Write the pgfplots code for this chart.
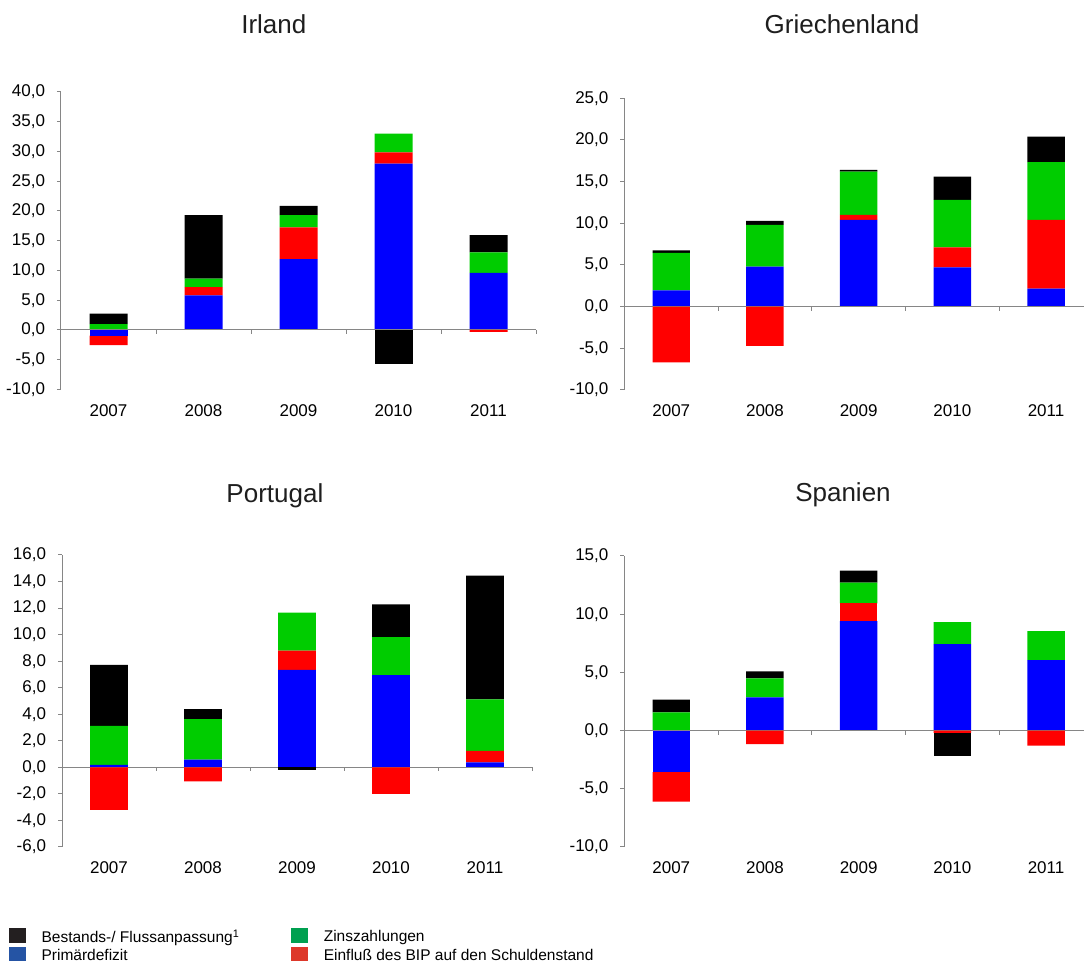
\documentclass[border=0pt]{standalone}
\usepackage{fontspec}
\setmainfont{Liberation Sans}
\usepackage{pgfplots}
\usepackage{pgfplotstable}
\pgfplotsset{compat=1.18}

\definecolor{bblue}{RGB}{0,0,255}
\definecolor{bred}{RGB}{255,0,0}
\definecolor{bgreen}{RGB}{0,204,0}
\definecolor{bblack}{RGB}{0,0,0}
\definecolor{axgray}{RGB}{134,134,134}
\definecolor{lblack}{RGB}{35,31,32}
\definecolor{lblue}{RGB}{37,84,164}
\definecolor{lgreen}{RGB}{0,160,80}
\definecolor{lred}{RGB}{221,56,42}

% columns: bp rp gp kp = positive parts (blue, red, green, black); bn rn kn = negative parts
\pgfplotstableread{
x bp rp gp kp bn rn kn
0 0 0 1.0 1.75 -0.95 -1.6 0
1 5.8 1.4 1.45 10.65 0 0 0
2 11.9 5.35 2.05 1.55 0 0 0
3 27.95 1.9 3.15 0 0 0 -5.8
4 9.6 0 3.45 2.9 0 -0.3 0
}\irland
\pgfplotstableread{
x bp rp gp kp bn rn kn
0 1.95 0 4.5 0.3 0 -6.7 0
1 4.8 0 5.0 0.5 0 -4.7 0
2 10.4 0.6 5.2 0.2 0 0 0
3 4.7 2.4 5.7 2.8 0 0 0
4 2.15 8.25 6.95 3.05 0 0 0
}\griechenland
\pgfplotstableread{
x bp rp gp kp bn rn kn
0 0.18 0 2.95 4.6 0 -3.2 0
1 0.58 0 3.05 0.75 0 -1.05 0
2 7.35 1.45 2.85 0 0 0 -0.18
3 6.95 0 2.87 2.45 0 -2.0 0
4 0.38 0.87 3.88 9.32 0 0 0
}\portugal
\pgfplotstableread{
x bp rp gp kp bn rn kn
0 0 0 1.57 1.09 -3.57 -2.54 0
1 2.86 0 1.63 0.6 0 -1.17 0
2 9.4 1.54 1.77 1.03 0 0 0
3 7.43 0 1.88 0 0 -0.2 -1.94
4 6.06 0 2.48 0 0 -1.29 0
}\spanien

\pgfplotsset{
  posaxis/.style={
    scale only axis, anchor=south west,
    ybar stacked, bar width=0.4,
    xmin=-0.5,
    axis y line*=left, axis x line*=bottom,
    x axis line style={draw=none},
    y axis line style={axgray, line width=1pt, -},
    xtick={0,1,2,3,4}, xticklabels={2007,2008,2009,2010,2011},
    major x tick style={draw=none},
    ytick align=outside, major tick length=4pt,
    major y tick style={axgray, line width=1pt},
    tick label style={font=\fontsize{17}{20}\selectfont, text=black},
    /pgf/number format/assume math mode=true,
    scaled y ticks=false,
    yticklabel style={xshift=-8.5pt, /pgf/number format/.cd, fixed, fixed zerofill, precision=1, use comma},
    xticklabel style={anchor=center, yshift=-21pt},
    title style={font=\fontsize{26}{31}\selectfont, anchor=base, text={rgb,255:red,30;green,30;blue,30}},
  },
  negaxis/.style={
    scale only axis, anchor=south west,
    ybar stacked, bar width=0.4,
    xmin=-0.5, hide axis, clip=false,
  },
}

\newcommand{\posbars}[1]{%
  \addplot[fill=bblue, draw=none] table[x=x, y=bp] {#1};
  \addplot[fill=bred, draw=none] table[x=x, y=rp] {#1};
  \addplot[fill=bgreen, draw=none] table[x=x, y=gp] {#1};
  \addplot[fill=bblack, draw=none] table[x=x, y=kp] {#1};
}
\newcommand{\negbars}[1]{%
  \addplot[fill=bblue, draw=none] table[x=x, y=bn] {#1};
  \addplot[fill=bred, draw=none] table[x=x, y=rn] {#1};
  \addplot[fill=bblack, draw=none] table[x=x, y=kn] {#1};
}
\newcommand{\zeroaxis}[1]{%
  \draw[axgray, line width=1pt] ({rel axis cs:0,0}|-{axis cs:0,0}) -- ({rel axis cs:1,0}|-{axis cs:0,0});
  \pgfplotsinvokeforeach{#1}{\draw[axgray, line width=1pt] (axis cs:##1,0) -- ++(0pt,-4pt);}
}

\begin{document}
\begin{tikzpicture}
\useasboundingbox (0pt,0pt) rectangle (1084pt,965pt);

% ---------------- Irland
\begin{axis}[posaxis, at={(61pt,575.5pt)}, width=475pt, height=297.5pt,
  xmax=4.5, ymin=-10, ymax=40, ytick={-10,-5,...,40},
  title={Irland}, title style={at={(0.448,1.177)}}]
\posbars{\irland}
\end{axis}
\begin{axis}[negaxis, at={(61pt,575.5pt)}, width=475pt, height=297.5pt,
  xmax=4.5, ymin=-10, ymax=40]
\negbars{\irland}
\zeroaxis{0.5,1.5,2.5,3.5,4.5}
\end{axis}

% ---------------- Griechenland
\begin{axis}[posaxis, at={(624.4pt,575pt)}, width=459.6pt, height=291.7pt,
  xmax=4.405, ymin=-10, ymax=25, ytick={-10,-5,...,25},
  title={Griechenland}, title style={at={(0.4735,1.202)}}]
\posbars{\griechenland}
\end{axis}
\begin{axis}[negaxis, at={(624.4pt,575pt)}, width=459.6pt, height=291.7pt,
  xmax=4.405, ymin=-10, ymax=25]
\negbars{\griechenland}
\zeroaxis{0.5,1.5,2.5,3.5}
\end{axis}

% ---------------- Portugal
\begin{axis}[posaxis, at={(62pt,118pt)}, width=470pt, height=292pt,
  xmax=4.5, ymin=-6, ymax=16, ytick={-6,-4,...,16},
  title={Portugal}, title style={at={(0.453,1.1575)}}]
\posbars{\portugal}
\end{axis}
\begin{axis}[negaxis, at={(62pt,118pt)}, width=470pt, height=292pt,
  xmax=4.5, ymin=-6, ymax=16]
\negbars{\portugal}
\zeroaxis{0.5,1.5,2.5,3.5,4.5}
\end{axis}

% ---------------- Spanien
\begin{axis}[posaxis, at={(624.4pt,118pt)}, width=459.6pt, height=291pt,
  xmax=4.405, ymin=-10, ymax=15, ytick={-10,-5,...,15},
  title={Spanien}, title style={at={(0.4756,1.165)}}]
\posbars{\spanien}
\end{axis}
\begin{axis}[negaxis, at={(624.4pt,118pt)}, width=459.6pt, height=291pt,
  xmax=4.405, ymin=-10, ymax=15]
\negbars{\spanien}
\zeroaxis{0.5,1.5,2.5,3.5}
\end{axis}

% ---------------- Legend
\begin{axis}[hide axis, scale only axis, width=100pt, height=100pt,
  at={(0pt,0pt)}, anchor=south west, xmin=0, xmax=1, ymin=0, ymax=1,
  legend columns=2, legend cell align=left,
  legend image code/.code={\fill[#1] (0pt,-5pt) rectangle (16pt,8.3pt);},
  legend style={at={(0.09,0.375)}, anchor=north west, draw=none, fill=none,
    inner sep=0pt, font=\fontsize{15.5}{18}\selectfont, row sep=1pt,
    /tikz/every odd column/.style={column sep=14pt},
    /tikz/column 2/.style={column sep=50pt}}]
\addlegendimage{lblack}
\addlegendentry{Bestands-/ Flussanpassung\textsuperscript{1}}
\addlegendimage{lgreen}
\addlegendentry{Zinszahlungen}
\addlegendimage{lblue}
\addlegendentry{Primärdefizit}
\addlegendimage{lred}
\addlegendentry{Einfluß des BIP auf den Schuldenstand}
\end{axis}
\end{tikzpicture}
\end{document}
